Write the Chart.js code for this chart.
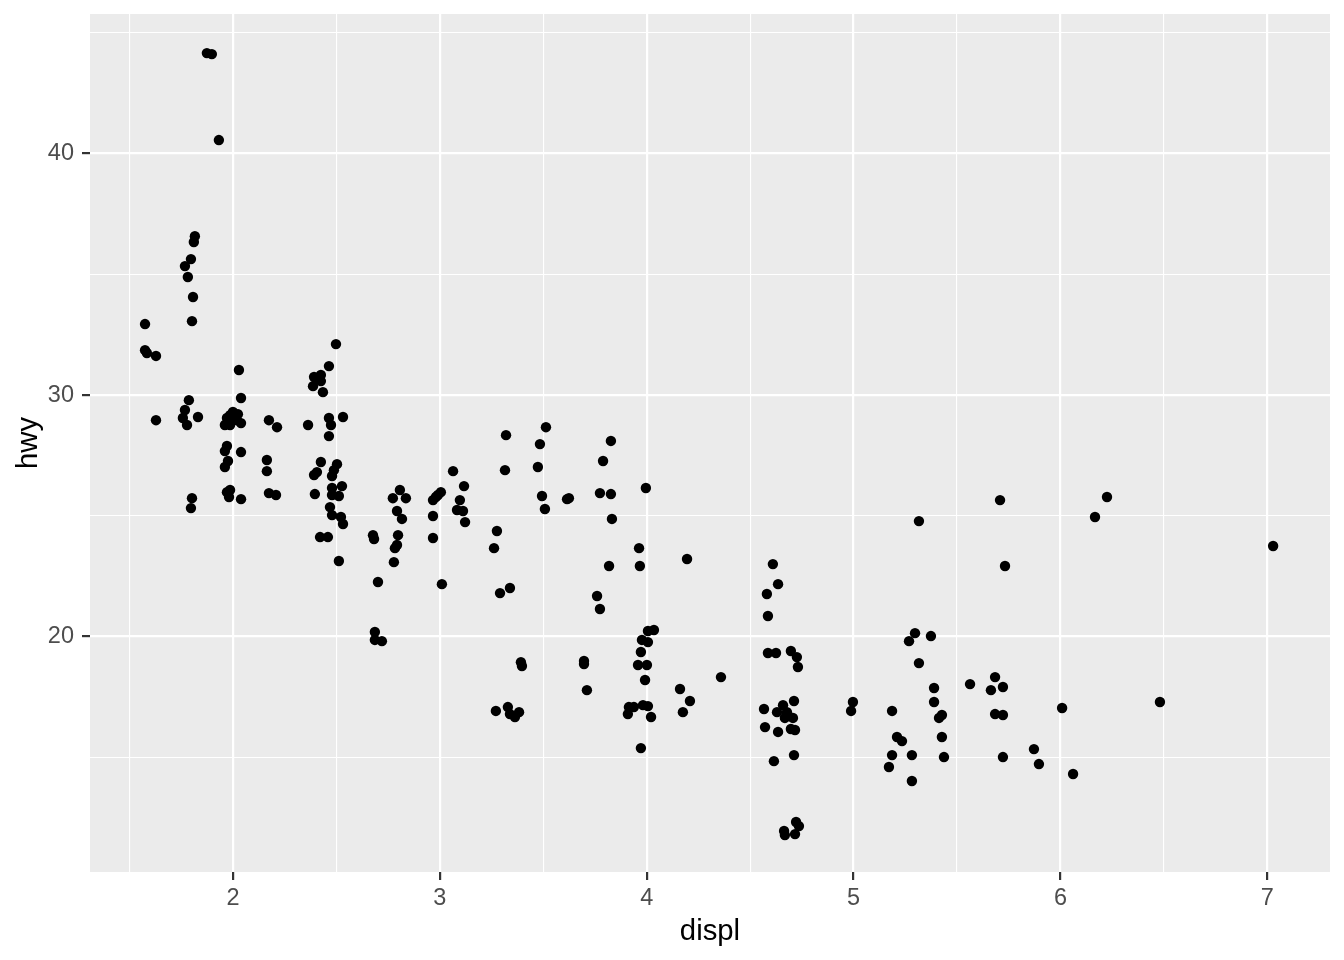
<!DOCTYPE html>
<html>
<head>
<meta charset="utf-8">
<script src="https://cdn.jsdelivr.net/npm/chart.js@4.4.1/dist/chart.umd.min.js"></script>
<style>
  html, body { margin: 0; padding: 0; background: #FFFFFF; }
  #wrap { width: 1344px; height: 960px; }
</style>
</head>
<body>
<div id="wrap"><canvas id="c" width="1344" height="960"></canvas></div>
<script>
// ---- data (jittered displ vs hwy) ----
const displ = [
  1.874, 1.898, 1.932, 1.816, 1.811, 1.797, 1.768, 1.782, 1.807, 1.575,
  1.802, 1.575, 1.584, 1.628, 2.498, 2.464, 2.029, 2.392, 2.425, 2.425,
  2.387, 2.435, 1.787, 2.039, 1.768, 1.758, 1.778, 1.831, 1.628, 2.000,
  2.024, 1.986, 1.971, 2.019, 1.961, 1.986, 2.039, 1.976, 2.174, 2.213,
  2.363, 2.464, 2.474, 2.532, 2.464, 1.971, 1.961, 2.039, 1.976, 1.961,
  2.164, 2.164, 2.425, 2.406, 2.392, 2.503, 2.488, 2.479, 2.527, 2.479,
  2.479, 2.512, 2.396, 1.971, 1.986, 1.981, 2.039, 2.174, 2.208, 1.802,
  1.797, 2.469, 2.479, 2.522, 2.532, 2.421, 2.459, 2.677, 2.682, 2.807,
  2.773, 2.836, 2.793, 2.817, 2.798, 2.793, 2.783, 2.967, 2.991, 3.005,
  2.981, 2.967, 2.967, 3.064, 3.117, 3.097, 3.083, 3.112, 3.122, 3.320,
  3.315, 3.276, 3.262, 3.513, 3.484, 3.474, 3.494, 3.508, 2.512, 2.778,
  2.701, 3.010, 3.291, 3.339, 2.686, 2.686, 2.720, 3.392, 3.397, 3.271,
  3.329, 3.339, 3.363, 3.383, 3.827, 3.789, 3.615, 3.624, 3.774, 3.827,
  3.996, 3.832, 3.963, 3.967, 3.818, 4.195, 3.760, 3.774, 4.006, 4.035,
  3.977, 4.006, 3.972, 3.958, 4.001, 3.992, 3.697, 3.697, 3.711, 4.161,
  4.209, 4.175, 4.359, 3.914, 3.938, 3.909, 3.982, 4.006, 4.021, 3.972,
  4.610, 4.635, 4.581, 4.586, 4.586, 4.625, 4.697, 4.726, 4.731, 4.712,
  4.567, 4.659, 4.630, 4.678, 4.668, 4.707, 4.572, 4.635, 4.697, 4.717,
  4.712, 4.615, 4.997, 4.988, 4.722, 4.736, 4.664, 4.717, 4.668, 5.316,
  5.732, 5.297, 5.268, 5.374, 5.316, 5.389, 5.389, 5.186, 5.427, 5.413,
  5.563, 5.684, 5.664, 5.722, 5.684, 5.722, 5.210, 5.234, 5.427, 5.186,
  5.282, 5.171, 5.437, 5.282, 5.722, 5.872, 5.896, 5.708, 6.225, 6.167,
  7.028, 6.008, 6.481, 6.061
];
const hwy = [
  44.16, 44.12, 40.56, 36.58, 36.34, 35.63, 35.34, 34.89, 34.06, 32.94,
  33.06, 31.86, 31.74, 31.62, 32.11, 31.20, 31.04, 30.75, 30.83, 30.58,
  30.37, 30.12, 29.79, 29.88, 29.38, 29.05, 28.76, 29.09, 28.96, 29.30,
  29.21, 29.17, 29.05, 28.96, 28.76, 28.76, 28.84, 28.88, 28.96, 28.67,
  28.76, 29.05, 28.76, 29.09, 28.30, 27.89, 27.68, 27.64, 27.27, 27.02,
  27.31, 26.85, 27.23, 26.81, 26.69, 27.14, 26.89, 26.65, 26.23, 26.15,
  25.86, 25.82, 25.90, 25.98, 26.07, 25.78, 25.69, 25.94, 25.86, 25.73,
  25.32, 25.36, 25.03, 24.95, 24.66, 24.12, 24.12, 24.20, 24.04, 26.07,
  25.73, 25.73, 25.20, 24.87, 24.20, 23.79, 23.66, 25.65, 25.86, 25.98,
  25.78, 24.99, 24.08, 26.85, 26.23, 25.65, 25.24, 25.20, 24.74, 28.34,
  26.89, 24.37, 23.66, 28.67, 27.97, 27.02, 25.82, 25.28, 23.13, 23.08,
  22.26, 22.17, 21.80, 22.01, 20.19, 19.86, 19.81, 18.94, 18.78, 16.92,
  17.08, 16.79, 16.67, 16.87, 28.10, 27.27, 25.69, 25.73, 25.94, 25.90,
  26.15, 24.87, 23.66, 22.92, 22.92, 23.21, 21.68, 21.14, 20.23, 20.27,
  19.86, 19.77, 19.36, 18.82, 18.82, 18.20, 18.99, 18.86, 17.78, 17.83,
  17.33, 16.87, 18.32, 17.08, 17.08, 16.79, 17.16, 17.12, 16.67, 15.38,
  23.00, 22.17, 21.76, 20.85, 19.32, 19.32, 19.40, 19.15, 18.74, 17.33,
  17.00, 17.16, 16.87, 16.87, 16.63, 16.63, 16.25, 16.05, 16.17, 16.13,
  15.09, 14.84, 17.29, 16.92, 12.32, 12.15, 11.95, 11.82, 11.78, 24.78,
  22.92, 20.14, 19.81, 20.02, 18.90, 17.87, 17.29, 16.92, 16.75, 16.63,
  18.03, 18.32, 17.78, 17.91, 16.79, 16.75, 15.84, 15.67, 15.84, 15.09,
  15.09, 14.60, 15.01, 14.02, 15.01, 15.34, 14.72, 25.65, 25.78, 24.95,
  23.75, 17.04, 17.29, 14.31
];

// ---- axes ----
const xMajor = [2, 3, 4, 5, 6, 7];
const xMinor = [1.5, 2.5, 3.5, 4.5, 5.5, 6.5];
const yMajor = [20, 30, 40];
const yMinor = [15, 25, 35, 45];
const xLimits = [1.309, 7.303];
const yLimits = [10.25, 45.78];
const xTitle = 'displ';
const yTitle = 'hwy';

const FONT = "'Liberation Sans', Arial, sans-serif";
const points = displ.map((x, i) => ({ x: x, y: hwy[i] }));

const panelBg = {
  id: 'panelBg',
  beforeDraw(chart) {
    const { ctx, chartArea: a } = chart;
    ctx.save();
    ctx.fillStyle = '#FFFFFF';
    ctx.fillRect(0, 0, chart.width, chart.height);
    ctx.fillStyle = '#EBEBEB';
    ctx.fillRect(a.left, a.top, a.right - a.left, a.bottom - a.top);
    ctx.restore();
  }
};

function axisOpts(major, minor, limits, title, isX) {
  return {
    type: 'linear',
    position: isX ? 'bottom' : 'left',
    min: limits[0],
    max: limits[1],
    afterBuildTicks: (s) => {
      s.ticks = minor.concat(major).sort((a, b) => a - b).map(v => ({ value: v }));
    },
    afterFit: (s) => {
      if (isX) s.height = 88; else s.width = 90;
      s.paddingTop = 0; s.paddingBottom = 0; s.paddingLeft = 0; s.paddingRight = 0;
    },
    ticks: {
      autoSkip: false,
      maxRotation: 0,
      minRotation: 0,
      color: '#4D4D4D',
      font: { family: FONT, size: 23.5 },
      padding: isX ? 4 : 8,
      callback: (v) => (major.includes(v) ? String(v) : '')
    },
    grid: {
      color: '#FFFFFF',
      lineWidth: (c) => (c.tick && major.includes(c.tick.value) ? 2.2 : 1.1),
      drawTicks: true,
      tickLength: 8,
      tickWidth: 2.2,
      tickColor: (c) => (c.tick && major.includes(c.tick.value) ? '#333333' : 'rgba(0,0,0,0)')
    },
    border: { display: false },
    title: {
      display: true,
      text: title,
      color: '#000000',
      font: { family: FONT, size: 29.3 },
      padding: isX ? { top: 0, bottom: 11 } : { top: 11, bottom: 0 }
    }
  };
}

new Chart(document.getElementById('c').getContext('2d'), {
  type: 'scatter',
  data: {
    datasets: [{
      data: points,
      backgroundColor: '#000000',
      borderWidth: 0,
      pointRadius: 5.2,
      pointHoverRadius: 5.2
    }]
  },
  options: {
    responsive: false,
    animation: false,
    devicePixelRatio: 1,
    layout: { padding: { top: 14, right: 14, left: 0, bottom: 0 } },
    plugins: { legend: { display: false }, tooltip: { enabled: false } },
    scales: {
      x: axisOpts(xMajor, xMinor, xLimits, xTitle, true),
      y: axisOpts(yMajor, yMinor, yLimits, yTitle, false)
    }
  },
  plugins: [panelBg]
});
</script>
</body>
</html>
